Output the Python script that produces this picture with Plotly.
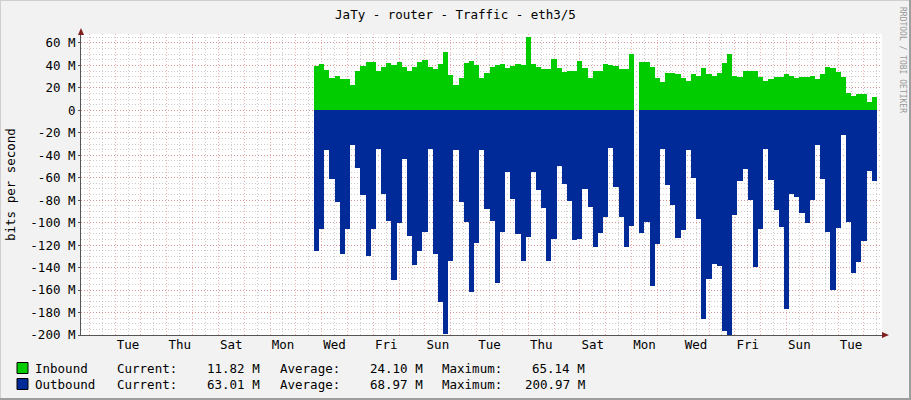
import plotly.graph_objects as go
from datetime import datetime, timedelta

# ---------------- data (Mbit/s, one sample every 4.8 h) ----------------
inbound = [
    39.1, 40.9, 35.6, 28.7, 30.2, 27.6, 27.6, 22.5, 34.7, 39.4, 43.3, 42.7, 35.0, 38.2, 41.8, 40.3, 42.7, 38.5, 35.0, 38.2, 42.7, 45.0,
    38.5, 36.4, 41.5, 52.4, 31.1, 22.2, 28.4, 41.8, 44.4, 40.0, 28.4, 32.9, 38.2, 40.3, 40.9, 37.3, 39.1, 40.9, 40.0, 65.14, 40.9, 38.2,
    36.4, 36.4, 45.9, 37.3, 34.1, 34.7, 34.7, 44.1, 37.3, 28.7, 34.7, 34.7, 41.5, 40.0, 39.1, 36.4, 36.4, 49.8, None, 42.7, 42.7, 38.2,
    28.4, 24.9, 32.9, 32.9, 32.3, 28.4, 26.1, 32.0, 30.5, 37.3, 32.0, 30.2, 33.2, 41.8, 49.8, 30.2, 29.6, 34.7, 34.7, 34.7, 29.3, 25.8,
    27.6, 29.3, 29.9, 32.0, 30.2, 28.7, 29.3, 29.3, 30.2, 27.9, 32.0, 38.2, 37.3, 34.1, 29.3, 15.1, 12.4, 14.2, 14.2, 7.4, 11.82,
]
outbound = [
    125.0, 105.5, 35.6, 61.0, 81.5, 128.3, 105.5, 31.1, 51.0, 75.3, 129.5, 105.5, 34.7, 74.4, 98.4, 151.4, 100.7, 43.6, 111.7, 137.5, 125.0, 108.7,
    34.7, 128.3, 170.4, 198.8, 133.9, 35.6, 81.5, 99.6, 161.5, 117.9, 35.6, 88.0, 98.4, 153.5, 108.1, 55.1, 79.1, 110.2, 133.9, 112.6, 55.1, 71.1,
    86.8, 133.9, 114.7, 49.8, 65.5, 80.9, 115.3, 114.1, 70.2, 85.9, 121.5, 109.6, 94.8, 33.8, 68.1, 94.8, 121.5, 102.8, None, 109.0, 99.6, 156.4,
    119.4, 34.1, 66.7, 84.4, 113.8, 106.4, 35.6, 60.1, 96.9, 185.5, 150.5, 136.9, 138.4, 196.4, 200.97, 93.3, 63.1, 52.1, 80.0, 139.6, 105.8, 34.7,
    62.2, 88.9, 103.7, 176.6, 74.1, 77.0, 91.3, 100.7, 80.0, 31.1, 61.3, 108.7, 159.7, 104.6, 22.2, 99.3, 144.6, 135.4, 116.1, 53.9, 63.01,
]
y_tick_vals = [60, 40, 20, 0, -20, -40, -60, -80, -100, -120, -140, -160, -180, -200]
y_tick_text = ["60 M", "40 M", "20 M", "0", "-20 M", "-40 M", "-60 M", "-80 M", "-100 M",
               "-120 M", "-140 M", "-160 M", "-180 M", "-200 M"]
legend_names = ["Inbound", "Outbound"]
legend_current = ["11.82 M", "63.01 M"]
legend_average = ["24.10 M", "68.97 M"]
legend_maximum = ["65.14 M", "200.97 M"]
title_text = "JaTy - router - Traffic - eth3/5"

# ---------------- styling ----------------
C_IN = "#00CC00"
C_OUT = "#002A97"
FONT = "DejaVu Sans Mono"
FS = 12.5
W, H = 911, 400
L, R, T, B = 81, 29, 34, 65
PW, PH = W - L - R, H - T - B

def px(x):
    return (x - L) / PW

def py(y):
    return (H - B - y) / PH

origin = datetime(2024, 1, 1)          # a Monday
step = timedelta(hours=4.8)
first = origin + timedelta(days=8.70)
times = [first + step * (i + 0.5) for i in range(len(inbound))]
x0 = origin + timedelta(days=-0.3215)
x1 = origin + timedelta(days=30.70)
step_ms = step.total_seconds() * 1000

out_neg = [(-v if v is not None else None) for v in outbound]

fig = go.Figure()
fig.add_trace(go.Bar(x=times, y=inbound, width=step_ms, marker_color=C_IN,
                     marker_line_width=0, hoverinfo="skip", name="Inbound"))
fig.add_trace(go.Bar(x=times, y=out_neg, width=step_ms, marker_color=C_OUT,
                     marker_line_width=0, hoverinfo="skip", name="Outbound"))
fig.add_trace(go.Scatter(x=[x0], y=[0], xaxis="x2", mode="markers",
                         marker=dict(opacity=0), hoverinfo="skip", showlegend=False))

GRID = "rgba(143,143,143,0.45)"
MGRID = "rgba(222,79,79,0.45)"
DASH = "1px,2px"

fig.update_layout(
    width=W, height=H, margin=dict(l=L, r=R, t=T, b=B, autoexpand=False),
    paper_bgcolor="#F2F2F2", plot_bgcolor="#FFFFFF",
    showlegend=False, barmode="overlay", bargap=0,
    font=dict(family=FONT, size=FS, color="#000000"),
    title=dict(text=title_text, x=0.5, xref="container", xanchor="center",
               y=1 - 15 / H, yref="container", yanchor="middle",
               font=dict(family=FONT, size=FS, color="#000000")),
    xaxis=dict(type="date", range=[x0, x1], tick0="2024-01-01", dtick=86400000,
               showticklabels=False, ticks="", showgrid=True, gridcolor=MGRID,
               griddash=DASH, gridwidth=1, zeroline=False, automargin=False,
               showline=True, linecolor="#555555", linewidth=1, layer="above traces",
               minor=dict(tick0="2024-01-01", dtick=43200000, showgrid=True,
                          gridcolor=GRID, griddash=DASH, gridwidth=1)),
    xaxis2=dict(type="date", range=[x0, x1], overlaying="x", anchor="y", side="bottom",
                tick0="2024-01-02 12:00", dtick=172800000, tickformat="%a",
                showgrid=False, ticks="", showline=False, zeroline=False, automargin=False,
                tickfont=dict(family=FONT, size=FS, color="#000000")),
    yaxis=dict(range=[-200, 68], tickvals=y_tick_vals, ticktext=y_tick_text,
               showgrid=True, gridcolor=MGRID, griddash=DASH, gridwidth=1,
               zeroline=False, showline=True, linecolor="#555555", linewidth=1,
               ticks="outside", ticklen=2, tickcolor="#555555", automargin=False,
               layer="above traces", tickfont=dict(family=FONT, size=FS),
               minor=dict(dtick=5, showgrid=True, gridcolor=GRID, griddash=DASH, gridwidth=1)),
)

shapes = []
# axis arrows
shapes.append(dict(type="path", xref="paper", yref="paper",
                   path=f"M {px(78)} {py(35)} L {px(84)} {py(35)} L {px(81)} {py(28)} Z",
                   fillcolor="#801F1F", line=dict(width=0)))
shapes.append(dict(type="path", xref="paper", yref="paper",
                   path=f"M {px(882)} {py(332)} L {px(882)} {py(338)} L {px(889)} {py(335)} Z",
                   fillcolor="#801F1F", line=dict(width=0)))
# frame shading
shapes.append(dict(type="line", xref="paper", yref="paper", x0=px(0), x1=px(W), y0=py(0.5), y1=py(0.5),
                   line=dict(color="#CFCFCF", width=1)))
shapes.append(dict(type="line", xref="paper", yref="paper", x0=px(0.5), x1=px(0.5), y0=py(0), y1=py(H),
                   line=dict(color="#CFCFCF", width=1)))
shapes.append(dict(type="line", xref="paper", yref="paper", x0=px(0), x1=px(W), y0=py(H - 1), y1=py(H - 1),
                   line=dict(color="#9E9E9E", width=2)))
shapes.append(dict(type="line", xref="paper", yref="paper", x0=px(W - 1), x1=px(W - 1), y0=py(0), y1=py(H),
                   line=dict(color="#9E9E9E", width=2)))

annotations = []
rows_y = [368, 384]
colors = [C_IN, C_OUT]
for k in range(2):
    yc = rows_y[k]
    shapes.append(dict(type="rect", xref="paper", yref="paper",
                       x0=px(17), x1=px(28), y0=py(yc - 5.5), y1=py(yc + 5.5),
                       fillcolor=colors[k], line=dict(color="#000000", width=1)))
    items = [
        (legend_names[k], 33, "left"),
        ("Current:", 115, "left"),
        (legend_current[k], 262, "right"),
        ("Average:", 278, "left"),
        (legend_average[k], 425, "right"),
        ("Maximum:", 440, "left"),
        (legend_maximum[k], 587, "right"),
    ]
    for txt, xx, anc in items:
        annotations.append(dict(text=txt, x=px(xx), y=py(yc), xref="paper", yref="paper",
                                xanchor=anc, yanchor="middle", showarrow=False,
                                font=dict(family=FONT, size=FS, color="#000000")))

annotations.append(dict(text="bits per second", x=px(10), y=py(185), xref="paper", yref="paper",
                        textangle=-90, xanchor="center", yanchor="middle", showarrow=False,
                        font=dict(family=FONT, size=FS, color="#000000")))
annotations.append(dict(text="RRDTOOL / TOBI OETIKER", x=px(903), y=py(60), xref="paper", yref="paper",
                        textangle=90, xanchor="center", yanchor="middle", showarrow=False,
                        font=dict(family=FONT, size=8, color="#999999")))

fig.update_layout(shapes=shapes, annotations=annotations)
fig.write_html("out.html", config={"displayModeBar": False},
               post_script="document.body.style.margin='0px';document.body.style.overflow='hidden';")
